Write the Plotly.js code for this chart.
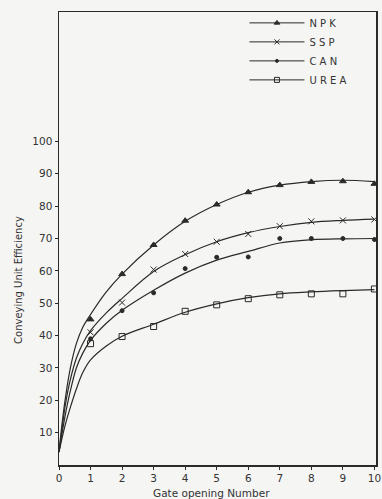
<!DOCTYPE html>
<html>
<head>
<meta charset="utf-8">
<script src="https://cdn.plot.ly/plotly-3.0.1.min.js"></script>
<style>
html,body{margin:0;padding:0;background:#f5f5f3;}
#chart{width:382px;height:499px;}
</style>
</head>
<body>
<div id="chart"></div>
<script>
// Observed gate opening numbers
var gates = [1, 2, 3, 4, 5, 6, 7, 8, 9, 10];
// Observed efficiencies (markers)
var npk  = [45, 59, 68, 75.5, 80.5, 84.3, 86.5, 87.5, 87.7, 86.9];
var ssp  = [41, 50.2, 60.4, 65.2, 69, 71.4, 73.8, 75.3, 75.6, 75.9];
var can  = [39, 47.7, 53.2, 60.7, 64.2, 64.3, 70, 70, 70, 69.7];
var urea = [37.5, 39.7, 42.8, 47.5, 49.5, 51.4, 52.6, 52.9, 52.9, 54.4];

// Fitted curves
var curveX    = [0, 0.1, 0.2, 0.35, 0.55, 0.75, 1, 1.5, 2, 3, 4, 5, 6, 7, 8, 9, 10];
var npkCurve  = [4, 13, 20.5, 29.5, 37.5, 42.5, 46.5, 53.5, 59, 68, 75.3, 80.5, 84.3, 86.5, 87.6, 88, 87.6];
var sspCurve  = [4, 11.5, 18.5, 26, 33, 37.5, 41.5, 47, 51.5, 59.8, 65, 69, 71.8, 73.7, 75, 75.6, 76];
var canCurve  = [4, 10, 15.5, 22.5, 30, 34.5, 38.5, 43.8, 47.8, 54, 59.3, 63.3, 66, 68.6, 69.6, 69.9, 70];
var ureaCurve = [4, 8.5, 12.5, 17.5, 23.5, 28.5, 32.5, 36.8, 39.8, 43.5, 47.2, 49.8, 51.7, 52.9, 53.5, 53.9, 54.2];

var seriesNames = ['N P K', 'S S P', 'C A N', 'U R E A'];
var xTicks = [0, 1, 2, 3, 4, 5, 6, 7, 8, 9, 10];
var yTicks = [10, 20, 30, 40, 50, 60, 70, 80, 90, 100];

var ink = '#2a2a2a';
var symbols = ['triangle-up', 'x-thin-open', 'circle', 'square-open'];
var msize = [6, 6, 4, 6];
var obs = [npk, ssp, can, urea];
var curves = [npkCurve, sspCurve, canCurve, ureaCurve];

var traces = [];
for (var i = 0; i < 4; i++) {
  traces.push({
    x: curveX, y: curves[i], mode: 'lines', type: 'scatter',
    line: {color: ink, width: 1.2, shape: 'spline', smoothing: 1},
    showlegend: false, hoverinfo: 'skip'
  });
  traces.push({
    x: gates, y: obs[i], mode: 'markers', type: 'scatter',
    marker: {symbol: symbols[i], size: msize[i], color: ink, line: {color: ink, width: 1}},
    showlegend: false
  });
}
for (var j = 0; j < 4; j++) {
  traces.push({
    x: [null], y: [null], mode: 'lines+markers', type: 'scatter', name: seriesNames[j],
    marker: {symbol: symbols[j], size: msize[j] - 1, color: ink, line: {color: ink, width: 1}},
    line: {color: ink, width: 1}
  });
}

var font = {family: 'DejaVu Sans, sans-serif', color: '#333', size: 10.5};
var layout = {
  width: 382, height: 499,
  margin: {l: 59, r: 6, t: 12, b: 34},
  paper_bgcolor: '#f5f5f3', plot_bgcolor: '#f5f5f3',
  font: font,
  showlegend: true,
  legend: {
    x: 0.585, y: 1.008, xanchor: 'left', yanchor: 'top',
    bgcolor: 'rgba(0,0,0,0)', font: {family: 'DejaVu Sans, sans-serif', size: 10, color: '#333'},
    itemwidth: 55, tracegroupgap: 0
  },
  xaxis: {
    range: [0, 10.05], tickvals: xTicks, ticktext: xTicks.map(String),
    showgrid: false, zeroline: false, showline: true, linecolor: ink, linewidth: 1.5,
    mirror: true, ticks: 'outside', ticklen: 3, tickcolor: ink, tickfont: font
  },
  yaxis: {
    range: [0, 140], tickvals: yTicks, ticktext: yTicks.map(String),
    showgrid: false, zeroline: false, showline: true, linecolor: ink, linewidth: 1.5,
    mirror: true, ticks: 'outside', ticklen: 3, tickcolor: ink, tickfont: font
  },
  annotations: [
    {text: 'Gate opening Number', xref: 'paper', yref: 'paper', x: 0.482, y: -0.061,
     xanchor: 'center', yanchor: 'middle', showarrow: false,
     font: {family: 'DejaVu Sans, sans-serif', size: 10.5, color: '#333'}},
    {text: 'Conveying Unit Efficiency', xref: 'paper', yref: 'paper', x: -0.13, y: 0.408,
     xanchor: 'center', yanchor: 'middle', textangle: -90, showarrow: false,
     font: {family: 'DejaVu Sans, sans-serif', size: 10, color: '#333'}}
  ]
};

Plotly.newPlot('chart', traces, layout, {displayModeBar: false, staticPlot: true});
</script>
</body>
</html>
